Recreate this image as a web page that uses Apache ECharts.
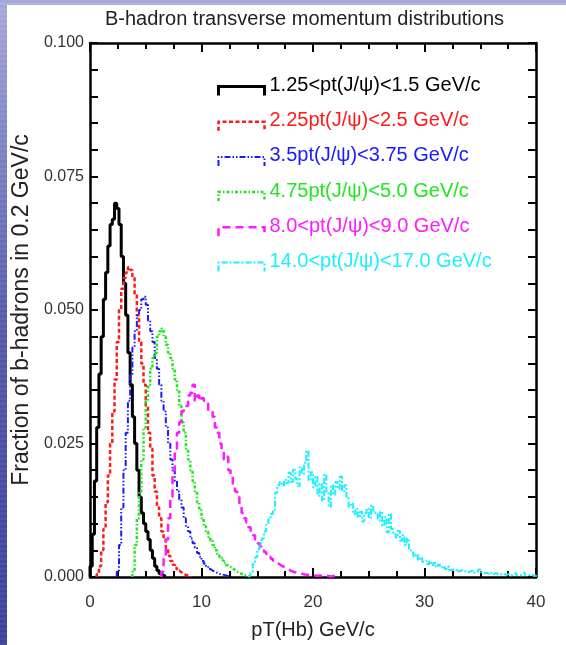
<!DOCTYPE html>
<html>
<head>
<meta charset="utf-8">
<script src="https://cdn.jsdelivr.net/npm/echarts@6/dist/echarts.min.js"></script>
<style>
  html, body { margin: 0; padding: 0; width: 566px; height: 645px; overflow: hidden; }
  body {
    background:
      repeating-linear-gradient(0deg, rgba(255,255,255,0.06) 0px, rgba(255,255,255,0.06) 2px, rgba(0,0,0,0.04) 3px, rgba(0,0,0,0) 5px),
      linear-gradient(180deg, #a9abdc 0%, #8488c8 20%, #565bad 50%, #444aa2 80%, #3c429c 100%);
  }
  #panel { position: absolute; left: 7px; top: 5px; right: 0; bottom: 0; background: #ffffff; }
  #chart { position: absolute; left: 0; top: 0; width: 566px; height: 645px; }
</style>
</head>
<body>
<div id="panel"></div>
<div id="chart"></div>
<script>
// Histogram bins are 0.2 GeV/c wide; each series lists its first bin edge and bin contents.
const binWidth = 0.2;

const seriesNames = [
  '1.25<pt(J/\u03c8)<1.5 GeV/c',
  '2.25pt(J/\u03c8)<2.5 GeV/c',
  '3.5pt(J/\u03c8)<3.75 GeV/c',
  '4.75pt(J/\u03c8)<5.0 GeV/c',
  '8.0<pt(J/\u03c8)<9.0 GeV/c',
  '14.0<pt(J/\u03c8)<17.0 GeV/c'
];

const blackStart = 0.0;
const blackValues = [
  0.002, 0.008, 0.018, 0.028, 0.038, 0.045, 0.052, 0.057, 0.062, 0.066,
  0.067, 0.070, 0.069, 0.066, 0.060, 0.055, 0.049, 0.042, 0.036, 0.030,
  0.025, 0.020, 0.015, 0.012, 0.010, 0.0085, 0.007, 0.005, 0.0035, 0.002,
  0.0012, 0.0006, 0.0003, 0.0001
];

const redStart = 0.6;
const redValues = [
  0.0005, 0.002, 0.005, 0.009, 0.014, 0.019, 0.025, 0.031, 0.037, 0.044,
  0.050, 0.054, 0.056, 0.057, 0.058, 0.0575, 0.056, 0.053, 0.049, 0.044,
  0.040, 0.036, 0.032, 0.027, 0.024, 0.019, 0.016, 0.013, 0.011, 0.0085,
  0.007, 0.0055, 0.004, 0.003, 0.0023, 0.0017, 0.0012, 0.0009, 0.0006, 0.0004,
  0.0003, 0.0002
];

const blueStart = 2.4;
const blueValues = [
  0.001, 0.006, 0.013, 0.020, 0.027, 0.033, 0.038, 0.043, 0.046, 0.049,
  0.050, 0.052, 0.0525, 0.051, 0.048, 0.046, 0.044, 0.041, 0.039, 0.036,
  0.033, 0.031, 0.028, 0.025, 0.022, 0.020, 0.018, 0.016, 0.0145, 0.013,
  0.011, 0.0095, 0.0085, 0.0072, 0.0063, 0.0055, 0.0045, 0.0038, 0.003, 0.0025,
  0.002, 0.0015, 0.0012, 0.001, 0.0008, 0.0006, 0.0005, 0.0004, 0.0003, 0.0002
];

const greenStart = 3.8;
const greenValues = [
  0.001, 0.006, 0.011, 0.016, 0.022, 0.028, 0.033, 0.036, 0.039, 0.041,
  0.042, 0.045, 0.046, 0.0465, 0.045, 0.0435, 0.042, 0.041, 0.039, 0.037,
  0.035, 0.032, 0.029, 0.027, 0.024, 0.022, 0.020, 0.018, 0.016, 0.014,
  0.0125, 0.011, 0.0095, 0.0085, 0.0075, 0.0068, 0.006, 0.005, 0.0043, 0.0037,
  0.0031, 0.0026, 0.0022, 0.0019, 0.0016, 0.0013, 0.001, 0.0008, 0.0006, 0.0004,
  0.0003, 0.0002
];

const magentaStart = 6.4;
const magentaValues = [
  0.001, 0.004, 0.007, 0.011, 0.015, 0.020, 0.024, 0.027, 0.029, 0.031,
  0.032, 0.032, 0.034, 0.0345, 0.036, 0.033, 0.034, 0.033, 0.0335, 0.033,
  0.0325, 0.031, 0.031, 0.030, 0.028, 0.027, 0.025, 0.0235, 0.022, 0.0225,
  0.020, 0.019, 0.0175, 0.016, 0.015, 0.0135, 0.012, 0.011, 0.0102, 0.0093,
  0.0086, 0.0078, 0.007, 0.0063, 0.0057, 0.0052, 0.0047, 0.0043, 0.0038, 0.0034,
  0.003, 0.0027, 0.0024, 0.0021, 0.0019, 0.0016, 0.0014, 0.0012, 0.001, 0.0009,
  0.0008, 0.0007, 0.0006, 0.0005, 0.0004, 0.0004, 0.0003, 0.0003, 0.0003, 0.0002,
  0.0003, 0.0002, 0.0002, 0.0002, 0.0002, 0.0001, 0.0002, 0.0001, 0.0001, 0.0001
];

const cyanStart = 14.2;
const cyanValues = [
  0.0003, 0.001, 0.0025, 0.0037, 0.0052, 0.0063, 0.0072, 0.0085, 0.0098, 0.0108,
  0.0118, 0.0126, 0.0158, 0.0172, 0.0178, 0.0171, 0.0182, 0.0176, 0.0195, 0.0178,
  0.0201, 0.0184, 0.0170, 0.0206, 0.0193, 0.0214, 0.0236, 0.0181, 0.0196, 0.0168,
  0.0188, 0.0152, 0.0175, 0.0143, 0.0192, 0.0160, 0.0131, 0.0172, 0.0154, 0.0178,
  0.0165, 0.0188, 0.0160, 0.0172, 0.0148, 0.0132, 0.0138, 0.0118, 0.0128, 0.0112,
  0.0122, 0.0104, 0.0120, 0.0128, 0.0110, 0.0134, 0.0124, 0.0118, 0.0106, 0.0122,
  0.0096, 0.0112, 0.0084, 0.0118, 0.0090, 0.0082, 0.0074, 0.0086, 0.0068, 0.0078,
  0.0060, 0.0072, 0.0050, 0.0046, 0.0038, 0.0042, 0.0032, 0.0036, 0.0028, 0.0030,
  0.0024, 0.0029, 0.0022, 0.0026, 0.0019, 0.0023, 0.0018, 0.0021, 0.0015, 0.0019,
  0.0013, 0.0014, 0.0012, 0.0015, 0.0011, 0.0013, 0.0010, 0.0012, 0.0009, 0.0011,
  0.0012, 0.0008, 0.0010, 0.0014, 0.0009, 0.0007, 0.0008, 0.0006, 0.0009, 0.0005,
  0.0007, 0.0006, 0.0004, 0.0007, 0.0005, 0.0004, 0.0006, 0.0003, 0.0005, 0.0008,
  0.0004, 0.0003, 0.0006, 0.0009, 0.0004, 0.0003, 0.0005, 0.0002, 0.0003
];

const xTickLabels = ['0', '10', '20', '30', '40'];
const yTickLabels = ['0.000', '0.025', '0.050', '0.075', '0.100'];

// Turn bin contents into step points closing down to the baseline at both ends.
function histogramPoints(start, values) {
  const pts = [[start, 0]];
  values.forEach((v, i) => pts.push([+(start + i * binWidth).toFixed(2), v]));
  pts.push([+(start + values.length * binWidth).toFixed(2), 0]);
  return pts;
}

const styles = [
  { color: '#000000', width: 3,   dash: 'solid' },
  { color: '#ff1a1a', width: 2.5, dash: [4, 2.5] },
  { color: '#1a1aff', width: 2,   dash: [6, 2, 1.5, 2, 1.5, 2] },
  { color: '#22e622', width: 2.5, dash: [3, 2, 1.5, 2] },
  { color: '#ff1aff', width: 2.5, dash: [8, 5] },
  { color: '#1af0ff', width: 2,   dash: [6, 2, 2, 2] }
];

const histograms = [
  histogramPoints(blackStart, blackValues),
  histogramPoints(redStart, redValues),
  histogramPoints(blueStart, blueValues),
  histogramPoints(greenStart, greenValues),
  histogramPoints(magentaStart, magentaValues),
  histogramPoints(cyanStart, cyanValues)
];

const font = '"Liberation Sans", Arial, sans-serif';
const frame = { lineStyle: { color: '#000', width: 2.5 } };

const xAxisCommon = {
  type: 'value', min: 0, max: 40, interval: 10,
  axisLine: { show: true, onZero: false, ...frame },
  axisTick: { show: true, inside: true, length: 9, lineStyle: { color: '#000', width: 2 } },
  minorTick: { show: true, splitNumber: 4, length: 6, lineStyle: { color: '#000', width: 2 } },
  splitLine: { show: false }
};
const yAxisCommon = {
  type: 'value', min: 0, max: 0.1, interval: 0.025,
  axisLine: { show: true, onZero: false, ...frame },
  axisTick: { show: true, inside: true, length: 8, lineStyle: { color: '#000', width: 2 } },
  minorTick: { show: true, splitNumber: 5, length: 8, lineStyle: { color: '#000', width: 2 } },
  splitLine: { show: false }
};

const iconPath = 'path://M0,0 M0,20 L0,11 L46,11 L46,20';

const chart = echarts.init(document.getElementById('chart'), null, { renderer: 'canvas' });
chart.setOption({
  backgroundColor: 'transparent',
  animation: false,
  textStyle: { fontFamily: font },
  title: {
    text: 'B-hadron transverse momentum distributions',
    left: 100, top: 4,
    textStyle: { fontFamily: font, fontSize: 20, fontWeight: 'normal', color: '#222' }
  },
  grid: { left: 90, right: 30, top: 43, bottom: 68 },
  legend: {
    orient: 'vertical', left: 216, top: 73, padding: 0,
    itemWidth: 46, itemHeight: 20, itemGap: 10.2,
    selectedMode: false,
    textStyle: { fontFamily: font, fontSize: 20, lineHeight: 20 },
    data: seriesNames.map((name, i) => ({
      name,
      icon: iconPath,
      itemStyle: { color: 'none', borderColor: styles[i].color, borderWidth: styles[i].width, borderType: styles[i].dash },
      textStyle: { color: styles[i].color }
    }))
  },
  xAxis: [
    {
      ...xAxisCommon, position: 'bottom',
      name: 'pT(Hb) GeV/c', nameLocation: 'middle', nameGap: 43,
      nameTextStyle: { fontFamily: font, fontSize: 20, color: '#222' },
      axisLabel: { margin: 17, fontFamily: font, fontSize: 17, color: '#333',
        formatter: v => xTickLabels[Math.round(v / 10)] }
    },
    { ...xAxisCommon, position: 'top', axisLabel: { show: false } }
  ],
  yAxis: [
    {
      ...yAxisCommon, position: 'left',
      name: 'Fraction of b-hadrons in 0.2 GeV/c', nameLocation: 'middle', nameGap: 57,
      nameTextStyle: { fontFamily: font, fontSize: 23, color: '#222' },
      axisLabel: { margin: 6, fontFamily: font, fontSize: 16, color: '#333',
        formatter: v => yTickLabels[Math.round(v / 0.025)] }
    },
    { ...yAxisCommon, position: 'right', axisLabel: { show: false } }
  ],
  series: histograms.map((pts, i) => ({
    name: seriesNames[i],
    type: 'line',
    step: 'end',
    data: pts,
    xAxisIndex: 0, yAxisIndex: 0,
    showSymbol: false, symbol: 'none',
    clip: true,
    z: 3 + i,
    lineStyle: { color: styles[i].color, width: styles[i].width, type: styles[i].dash },
    itemStyle: { color: styles[i].color }
  }))
});
</script>
</body>
</html>
